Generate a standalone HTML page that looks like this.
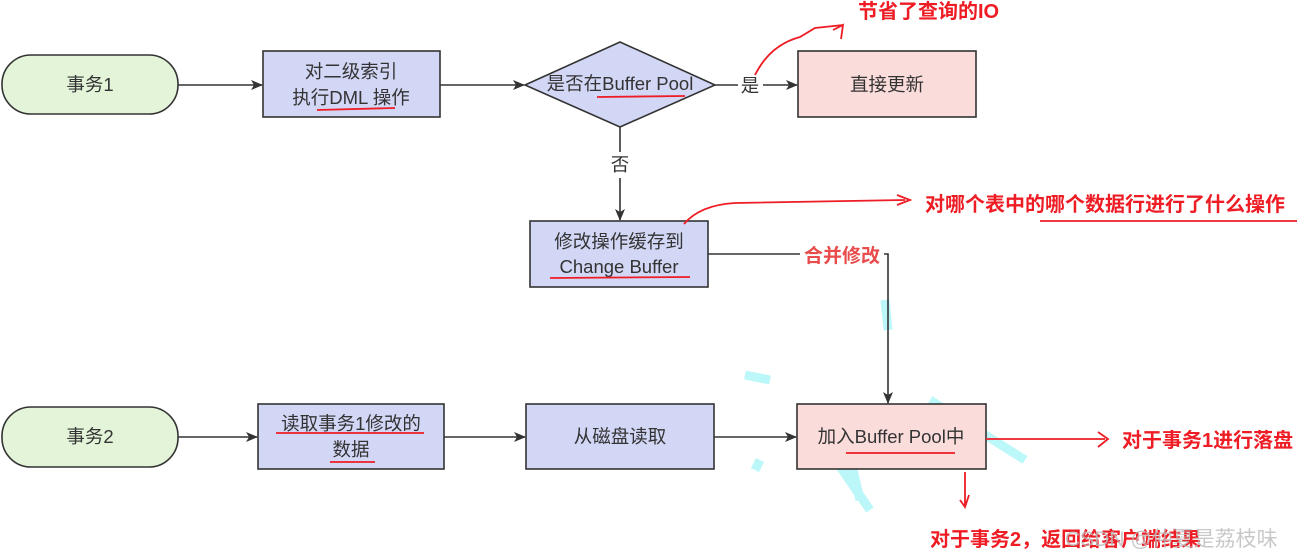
<!DOCTYPE html>
<html><head><meta charset="utf-8"><style>
html,body{margin:0;padding:0;background:#fff;width:1315px;height:557px;overflow:hidden}
svg{display:block}
.t{font-family:"Liberation Sans","Noto Sans CJK SC",sans-serif;font-size:18.5px;fill:#333;text-anchor:middle}
.r{font-family:"Liberation Sans","Noto Sans CJK SC",sans-serif;font-size:20px;fill:#ee1c24;font-weight:bold}
</style></head><body>
<svg width="1315" height="557" viewBox="0 0 1315 557">
<defs><marker id="a" markerWidth="12" markerHeight="10" refX="11" refY="5" orient="auto" markerUnits="userSpaceOnUse"><path d="M0,0 L12,5 L0,10 L3,5z" fill="#333"/></marker></defs>
<g fill="none" stroke="#3ee8ef" stroke-width="9" opacity="0.35">
<path d="M745,375 L770,380"/><path d="M808,420 L870,510"/><path d="M838,405 L860,500"/><path d="M930,400 L1025,460"/><path d="M755,470 L760,460"/><path d="M885,300 L888,330"/>
</g>
<g stroke="#333" stroke-width="1.6" fill="none">
<rect x="2" y="55" width="176" height="59" rx="29" fill="#e3f4d9"/>
<rect x="263" y="51" width="177" height="66" fill="#d3d7f6"/>
<polygon points="525,85 620,42 715,85 620,127" fill="#d3d7f6"/>
<rect x="798" y="51" width="178" height="66" fill="#fadcdb"/>
<rect x="530" y="221" width="178" height="66" fill="#d3d7f6"/>
<rect x="2" y="407" width="176" height="60" rx="29" fill="#e3f4d9"/>
<rect x="258" y="404" width="186" height="65" fill="#d3d7f6"/>
<rect x="526" y="404" width="188" height="65" fill="#d3d7f6"/>
<rect x="797" y="404" width="189" height="65" fill="#fadcdb"/>
<path d="M178,85 L262,85" marker-end="url(#a)"/>
<path d="M440,85 L524,85" marker-end="url(#a)"/>
<path d="M715,85 L738,85 M763,85 L797,85" marker-end="url(#a)"/>
<path d="M620,127 L620,152 M620,178 L620,220" marker-end="url(#a)"/>
<path d="M708,254 L800,254 M884,254 L888,254 L888,403" marker-end="url(#a)"/>
<path d="M178,437 L257,437" marker-end="url(#a)"/>
<path d="M444,437 L525,437" marker-end="url(#a)"/>
<path d="M714,437 L796,437" marker-end="url(#a)"/>
</g>
<text class="t" x="90" y="91">事务1</text>
<text class="t" x="351" y="78">对二级索引</text>
<text class="t" x="351" y="104">执行DML 操作</text>
<text class="t" x="620" y="90">是否在Buffer Pool</text>
<text class="t" x="750" y="92">是</text>
<text class="t" x="887" y="91">直接更新</text>
<text class="t" x="620" y="171">否</text>
<text class="t" x="619" y="248">修改操作缓存到</text>
<text class="t" x="619" y="273">Change Buffer</text>
<text class="t" x="90" y="443">事务2</text>
<text class="t" x="351" y="430">读取事务1修改的</text>
<text class="t" x="351" y="456">数据</text>
<text class="t" x="891" y="443">加入Buffer Pool中</text>
<text class="t" x="620" y="443">从磁盘读取</text>
<g stroke="#ee1c24" stroke-width="1.8" fill="none">
<path d="M317,110 L395,108"/><path d="M597,97 L685,96"/><path d="M550,278 L690,277"/>
<path d="M276,433 L424,433"/><path d="M330,462 L375,462"/><path d="M846,453 L955,453"/>
<path d="M1040,221 L1297,221"/>
<path d="M755,75 Q770,45 800,37 L815,28 L843,25 M833,30 L843,25 L841,39"/>
<path d="M684,224 Q700,205 735,203 L905,200 M897,195 L910,200 L897,205"/>
<path d="M986,439 L1105,439 M1098,432 L1108,439 L1098,447"/>
<path d="M965,472 L965,505 M960,500 L965,507 L969,495"/>
</g>
<text class="r" x="858" y="18">节省了查询的IO</text>
<text class="r" x="925" y="211">对哪个表中的哪个数据行进行了什么操作</text>
<text class="r" x="804" y="262" style="fill:#e84c4c;font-size:19px">合并修改</text>
<text class="r" x="1122" y="447">对于事务1进行落盘</text>
<text class="r" x="930" y="546">对于事务2，返回给客户端结果</text>
<text x="1065" y="546" font-family="Liberation Sans,Noto Sans CJK SC,sans-serif" font-size="21" fill="#bbb" opacity="0.8">CSDN @仲夏是荔枝味</text>
</svg>
</body></html>
